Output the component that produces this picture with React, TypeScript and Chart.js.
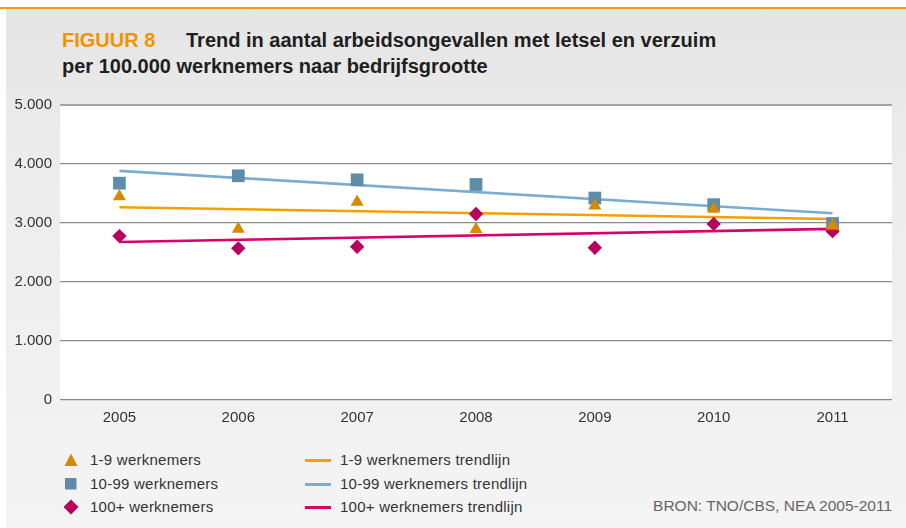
import React, { useEffect, useRef } from "react";
import { Chart, registerables } from "chart.js";

Chart.register(...registerables);

// ---- data ----
const years = ["2005", "2006", "2007", "2008", "2009", "2010", "2011"];
const small = [3451, 2900, 3355, 2895, 3294, 3238, 2963]; // 1-9 werknemers
const medium = [3675, 3800, 3732, 3653, 3423, 3311, 2991]; // 10-99 werknemers
const large = [2778, 2570, 2598, 3153, 2581, 2985, 2862]; // 100+ werknemers
const smallTrend = [3266, null, null, null, null, null, 3069];
const mediumTrend = [3883, null, null, null, null, null, 3165];
const largeTrend = [2677, null, null, null, null, null, 2901];
const yTicks = [0, 1000, 2000, 3000, 4000, 5000];

const seriesNames = ["1-9 werknemers", "10-99 werknemers", "100+ werknemers"];
const trendNames = [
  "1-9 werknemers trendlijn",
  "10-99 werknemers trendlijn",
  "100+ werknemers trendlijn",
];

const C_TRI = "#d68a00";
const C_SQ = "#5f8ca8";
const C_DIA = "#b8005c";
const C_TRI_L = "#f5a000";
const C_SQ_L = "#79acd0";
const C_DIA_L = "#d7006d";

const FONT = "'Liberation Sans', Arial, sans-serif";

function fmt(v: number): string {
  const s = String(Math.round(v));
  return s.replace(/\B(?=(\d{3})+(?!\d))/g, ".");
}

const bgPlugin = {
  id: "plotBg",
  beforeDraw(chart: any) {
    const { ctx, chartArea } = chart;
    if (!chartArea) return;
    ctx.save();
    ctx.fillStyle = "#ffffff";
    ctx.fillRect(
      chartArea.left,
      chartArea.top,
      chartArea.right - chartArea.left,
      chartArea.bottom - chartArea.top
    );
    ctx.restore();
  },
};

function ChartCanvas() {
  const ref = useRef<HTMLCanvasElement | null>(null);
  useEffect(() => {
    if (!ref.current) return;
    const pointDs = (label: string, data: number[], color: string, style: string, radius: number) => ({
      type: "line" as const,
      label,
      data,
      showLine: false,
      pointStyle: style,
      pointRadius: radius,
      pointBackgroundColor: color,
      pointBorderColor: color,
      pointBorderWidth: 0,
      backgroundColor: color,
      borderColor: color,
    });
    const trendDs = (label: string, data: (number | null)[], color: string) => ({
      type: "line" as const,
      label,
      data,
      spanGaps: true,
      pointRadius: 0,
      borderColor: color,
      borderWidth: 2.6,
      backgroundColor: color,
    });
    const chart = new Chart(ref.current, {
      type: "line",
      data: {
        labels: years,
        datasets: [
          pointDs(seriesNames[0], small, C_TRI, "triangle", 7.5),
          pointDs(seriesNames[1], medium, C_SQ, "rect", 9),
          pointDs(seriesNames[2], large, C_DIA, "rectRot", 7.2),
          trendDs(trendNames[0], smallTrend, C_TRI_L),
          trendDs(trendNames[1], mediumTrend, C_SQ_L),
          trendDs(trendNames[2], largeTrend, C_DIA_L),
        ] as any,
      },
      options: {
        animation: false,
        responsive: true,
        maintainAspectRatio: false,
        layout: { padding: { top: 15, right: 14, left: 0, bottom: 0 } },
        plugins: {
          legend: { display: false },
          tooltip: { enabled: false },
          title: { display: false },
        },
        scales: {
          x: {
            type: "category",
            offset: true,
            grid: { display: false, drawTicks: false },
            border: { display: false },
            ticks: {
              color: "#333333",
              font: { family: FONT, size: 15 },
              padding: 9,
              maxRotation: 0,
            },
            afterFit: (scale: any) => {
              scale.height = 30;
            },
          },
          y: {
            min: 0,
            max: 5000,
            afterBuildTicks: (scale: any) => {
              scale.ticks = yTicks.map((v) => ({ value: v }));
            },
            grid: {
              color: (ctx: any) => (ctx.tick && ctx.tick.value === 5000 ? "#a3a3a3" : "#8a8a8a"),
              lineWidth: (ctx: any) => (ctx.tick && ctx.tick.value === 5000 ? 2 : 1.3),
              drawTicks: false,
            },
            border: { display: false },
            ticks: {
              color: "#333333",
              font: { family: FONT, size: 15 },
              padding: 8,
              callback: (v: any) => fmt(Number(v)),
            },
            afterFit: (scale: any) => {
              scale.width = 60;
            },
          },
        },
      } as any,
      plugins: [bgPlugin],
    });
    return () => chart.destroy();
  }, []);
  return <canvas ref={ref} />;
}

function Marker({ kind }: { kind: string }) {
  if (kind === "tri")
    return (
      <svg width="16" height="16" style={{ display: "block" }}>
        <polygon points="8,1.5 14.5,14 1.5,14" fill={C_TRI} />
      </svg>
    );
  if (kind === "sq")
    return (
      <svg width="16" height="16" style={{ display: "block" }}>
        <rect x="2" y="2" width="11.5" height="11.5" fill={C_SQ} />
      </svg>
    );
  return (
    <svg width="16" height="16" style={{ display: "block" }}>
      <polygon points="8,0.5 15.5,8 8,15.5 0.5,8" fill={C_DIA} />
    </svg>
  );
}

export default function App() {
  const rowsTop = [451, 475, 498];
  const markerKinds = ["tri", "sq", "dia"];
  const lineColors = [C_TRI_L, C_SQ_L, C_DIA_L];
  const textStyle: React.CSSProperties = {
    position: "absolute",
    fontFamily: FONT,
    fontSize: 15,
    lineHeight: "18px",
    color: "#333333",
    letterSpacing: "0.25px",
    whiteSpace: "nowrap",
  };
  return (
    <div
      style={{
        position: "fixed",
        left: 0,
        top: 0,
        width: 906,
        height: 528,
        background: "#ffffff",
        overflow: "hidden",
      }}
    >
      <div
        style={{
          position: "absolute",
          left: 0,
          top: 7,
          width: 906,
          height: 2,
          background: "#f39c00",
        }}
      />
      <div
        style={{
          position: "absolute",
          left: 6,
          top: 9,
          width: 900,
          height: 519,
          background: "linear-gradient(to bottom, #e5e5e5 0%, #ececec 30%, #f4f4f4 100%)",
        }}
      />
      <div
        style={{
          position: "absolute",
          left: 62,
          top: 27,
          fontFamily: FONT,
          fontWeight: "bold",
          fontSize: 20,
          lineHeight: "26px",
          color: "#1e1e1e",
          whiteSpace: "nowrap",
        }}
      >
        <span style={{ color: "#f39200", display: "inline-block", width: 124 }}>FIGUUR 8</span>
        <span>Trend in aantal arbeidsongevallen met letsel en verzuim</span>
        <br />
        <span>per 100.000 werknemers naar bedrijfsgrootte</span>
      </div>
      <div style={{ position: "absolute", left: 0, top: 88, width: 906, height: 342 }}>
        <ChartCanvas />
      </div>
      {rowsTop.map((t, i) => (
        <React.Fragment key={i}>
          <div style={{ position: "absolute", left: 63, top: t + 1 }}>
            <Marker kind={markerKinds[i]} />
          </div>
          <div style={{ ...textStyle, left: 90, top: t }}>{seriesNames[i]}</div>
          <div
            style={{
              position: "absolute",
              left: 305,
              top: t + 8,
              width: 26,
              height: 3,
              background: lineColors[i],
            }}
          />
          <div style={{ ...textStyle, left: 340, top: t }}>{trendNames[i]}</div>
        </React.Fragment>
      ))}
      <div
        style={{
          position: "absolute",
          right: 14,
          top: 497,
          fontFamily: FONT,
          fontSize: 15.5,
          lineHeight: "18px",
          color: "#666666",
          whiteSpace: "nowrap",
        }}
      >
        BRON: TNO/CBS, NEA 2005-2011
      </div>
    </div>
  );
}
